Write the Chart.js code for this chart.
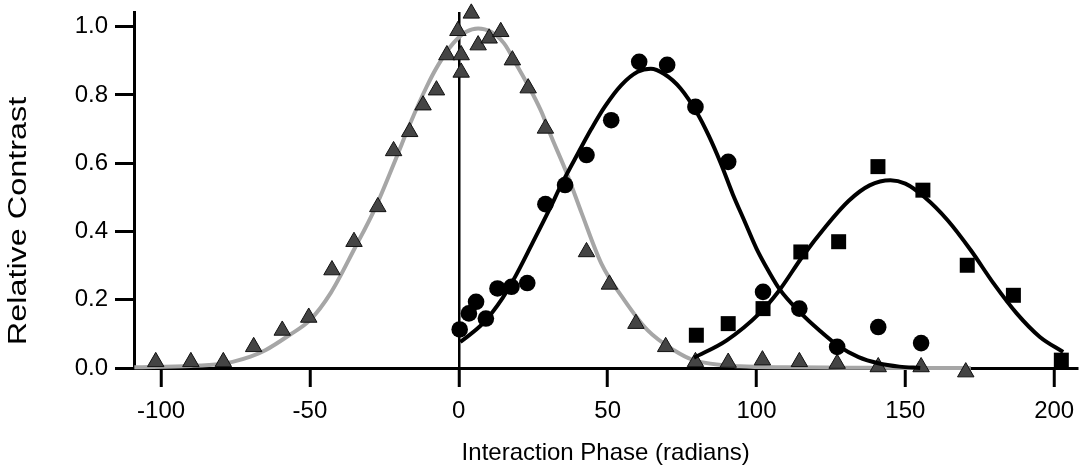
<!DOCTYPE html>
<html>
<head>
<meta charset="utf-8">
<script src="https://cdn.jsdelivr.net/npm/chart.js@4.4.1/dist/chart.umd.min.js"></script>
<style>
  html, body { margin: 0; padding: 0; background: #fff; }
  canvas { display: block; }
</style>
</head>
<body>
<canvas id="chart" width="1088" height="471"></canvas>
<script>
// axis ticks and titles
const xTicks = [-100, -50, 0, 50, 100, 150, 200];
const yTicks = [0, 0.2, 0.4, 0.6, 0.8, 1.0];
const xTitle = "Interaction Phase (radians)";
const yTitle = "Relative Contrast";

// triangles (measured)
const triX = [-101.8, -90, -79.1, -68.9, -59.3, -50.4, -42.6, -35.2, -27.2, -21.9, -16.5, -12, -7.5, -4, -0.3, 0.8, 0.8, 4.2, 6.5, 10.2, 14.1, 18, 23.3, 29.1, 42.9, 50.6, 59.5, 69.5, 79.5, 90.5, 102, 114.4, 127.1, 140.9, 155.3, 170.3];
const triY = [0.018, 0.018, 0.018, 0.062, 0.11, 0.148, 0.287, 0.37, 0.472, 0.636, 0.692, 0.77, 0.814, 0.917, 0.988, 0.917, 0.866, 1.039, 0.946, 0.966, 0.985, 0.902, 0.82, 0.702, 0.34, 0.245, 0.13, 0.062, 0.018, 0.016, 0.023, 0.018, 0.013, 0.003, 0.003, -0.012];

// circles
const circX = [0.3, 3.4, 5.8, 9.1, 13, 17.7, 23, 29.1, 35.7, 42.9, 51.2, 60.6, 70, 79.5, 90.5, 102.2, 114.4, 127.1, 140.9, 155.3];
const circY = [0.113, 0.16, 0.194, 0.145, 0.233, 0.238, 0.249, 0.48, 0.536, 0.624, 0.726, 0.897, 0.888, 0.765, 0.604, 0.223, 0.174, 0.062, 0.12, 0.073];

// squares
const sqX = [79.8, 90.5, 102.2, 114.9, 127.6, 140.8, 155.9, 170.8, 186.3, 202.4];
const sqY = [0.096, 0.13, 0.174, 0.34, 0.37, 0.59, 0.521, 0.301, 0.213, 0.023];

// fitted curves
const triFitX = [-109, -90, -80, -76, -70, -65, -57, -50, -43, -35, -28, -21.5, -16.3, -10.8, -6.9, -1.9, 2.5, 6.5, 10.8, 15.2, 19.1, 24.7, 28, 30.5, 36.3, 41.3, 47.9, 55.6, 63.4, 72.3, 78.9, 94.4, 110, 130, 150, 172];
const triFitY = [0.002, 0.006, 0.012, 0.018, 0.033, 0.052, 0.096, 0.14, 0.22, 0.35, 0.47, 0.605, 0.717, 0.824, 0.888, 0.951, 0.985, 0.995, 0.985, 0.951, 0.893, 0.805, 0.746, 0.69, 0.57, 0.453, 0.306, 0.199, 0.111, 0.052, 0.023, 0.005, 0.002, 0.001, 0.0, 0.0];

const circFitX = [0.5, 8, 14.7, 19.1, 24.7, 30.2, 34.6, 40.1, 44.5, 49, 54.6, 60.1, 64.5, 68.9, 74.5, 80, 84, 88, 92, 96, 100, 104, 108, 114.4, 121, 127.6, 134.3, 140.9, 148, 155];
const circFitY = [0.076, 0.13, 0.205, 0.27, 0.365, 0.46, 0.54, 0.63, 0.7, 0.765, 0.829, 0.868, 0.877, 0.862, 0.819, 0.748, 0.68, 0.6, 0.51, 0.43, 0.35, 0.285, 0.228, 0.165, 0.111, 0.064, 0.032, 0.014, 0.004, 0.0];

const sqFitX = [79, 90, 101, 107.7, 115.4, 123.2, 131, 138, 145, 150, 156.4, 164.2, 172, 179.7, 187.4, 195.2, 203];
const sqFitY = [0.03, 0.081, 0.16, 0.228, 0.326, 0.414, 0.49, 0.535, 0.55, 0.54, 0.501, 0.433, 0.345, 0.247, 0.16, 0.091, 0.047];

const FONT = '"Liberation Sans", Arial, Helvetica, sans-serif';

function pts(xs, ys) {
  return xs.map((x, i) => ({ x: x, y: ys[i] }));
}

// y title is drawn stretched along its length like in the original figure
const yTitlePlugin = {
  id: "yTitle",
  afterDraw(chart) {
    const ctx = chart.ctx;
    ctx.save();
    ctx.translate(19.6, 221);
    ctx.rotate(-Math.PI / 2);
    ctx.scale(1.295, 1);
    ctx.font = "25px " + FONT;
    ctx.fillStyle = "#000";
    ctx.textAlign = "center";
    ctx.textBaseline = "middle";
    ctx.fillText(yTitle, 0, 0);
    ctx.restore();
  },
};

const fitLine = (data, color, order) => ({
  data: data,
  showLine: true,
  borderColor: color,
  borderWidth: 4,
  pointRadius: 0,
  cubicInterpolationMode: "monotone",
  fill: false,
  clip: false,
  order: order,
});

new Chart(document.getElementById("chart"), {
  type: "scatter",
  data: {
    datasets: [
      {
        label: "squares",
        data: pts(sqX, sqY),
        pointStyle: "rect",
        pointRadius: 10.6,
        backgroundColor: "#000",
        borderWidth: 0,
        clip: false,
        order: 1,
      },
      {
        label: "circles",
        data: pts(circX, circY),
        pointStyle: "circle",
        pointRadius: 8.3,
        backgroundColor: "#000",
        borderWidth: 0,
        clip: false,
        order: 2,
      },
      fitLine(pts(sqFitX, sqFitY), "#000", 3),
      fitLine(pts(circFitX, circFitY), "#000", 4),
      {
        label: "triangles",
        data: pts(triX, triY),
        pointStyle: "triangle",
        pointRadius: 9.5,
        backgroundColor: "#444",
        borderColor: "#111",
        borderWidth: 1,
        clip: false,
        order: 5,
      },
      fitLine(pts(triFitX, triFitY), "#a6a6a6", 6),
    ],
  },
  options: {
    responsive: false,
    animation: false,
    devicePixelRatio: 1,
    layout: { padding: { top: 12, right: 0, bottom: 0, left: 0 } },
    plugins: { legend: { display: false }, tooltip: { enabled: false } },
    scales: {
      x: {
        type: "linear",
        position: "bottom",
        min: -109.1,
        max: 207.8,
        afterBuildTicks: (s) => { s.ticks = xTicks.map((v) => ({ value: v })); },
        afterFit: (s) => { s.height = 103; },
        ticks: {
          color: "#000",
          font: { family: FONT, size: 24, lineHeight: 2 },
          padding: 0,
          autoSkip: false,
          maxRotation: 0,
          callback: (v) => String(v),
        },
        grid: {
          color: (c) => (c.tick && c.tick.value === 0 ? "#000" : "rgba(0,0,0,0)"),
          lineWidth: 2.5,
          tickColor: "#000",
          tickWidth: 3,
          tickLength: 19,
        },
        border: { display: true, color: "#000", width: 3 },
        title: {
          display: true,
          text: xTitle,
          color: "#000",
          font: { family: FONT, size: 24 },
          padding: { top: 0, bottom: 3 },
        },
      },
      y: {
        min: 0,
        max: 1.043,
        afterBuildTicks: (s) => { s.ticks = yTicks.map((v) => ({ value: v })); },
        afterFit: (s) => { s.width = 134; },
        ticks: {
          color: "#000",
          font: { family: FONT, size: 24, lineHeight: 0.4 },
          padding: 7,
          callback: (v) => v.toFixed(1),
        },
        grid: {
          drawOnChartArea: false,
          tickColor: "#000",
          tickWidth: 3,
          tickLength: 19,
        },
        border: { display: true, color: "#000", width: 3 },
      },
    },
  },
  plugins: [yTitlePlugin],
});
</script>
</body>
</html>
